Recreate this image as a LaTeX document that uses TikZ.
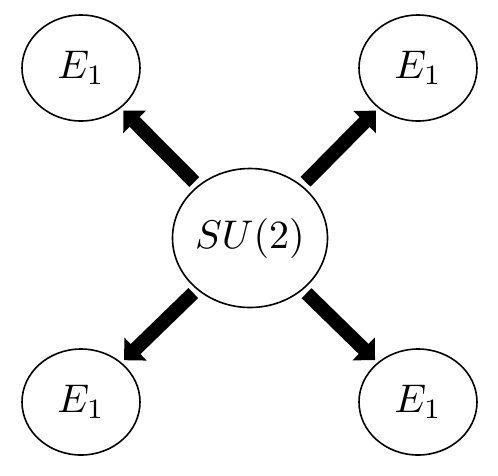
\documentclass[tikz,border=0pt]{standalone}
\usepackage{graphicx}
\usetikzlibrary{shapes.geometric,arrows.meta}
\newcommand{\bigmath}[1]{\scalebox{4}{$#1$}}
\begin{document}
\begin{tikzpicture}[x=1pt,y=-1pt,
  blob/.style={ellipse,draw=black,line width=1.6pt,inner sep=0pt,
    minimum width=118pt,minimum height=106pt},
  hub/.style={ellipse,draw=black,line width=1.6pt,inner sep=0pt,
    minimum width=148pt,minimum height=139pt},
  fat/.style={line width=14pt,line cap=butt,
    -{Triangle[width=31pt,length=16pt]},shorten <=79pt,shorten >=60pt}]
\useasboundingbox (0,0) rectangle (498,475);
\node[hub] (c) at (250,238) {\bigmath{SU(2)}};
\node[blob] (tl) at (81,68) {\bigmath{E_1}};
\node[blob] (tr) at (418,68) {\bigmath{E_1}};
\node[blob] (bl) at (81,402) {\bigmath{E_1}};
\node[blob] (br) at (418,402) {\bigmath{E_1}};
\draw[fat] (c.center) -- (tl.center);
\draw[fat] (c.center) -- (tr.center);
\draw[fat] (c.center) -- (bl.center);
\draw[fat] (c.center) -- (br.center);
\end{tikzpicture}
\end{document}
